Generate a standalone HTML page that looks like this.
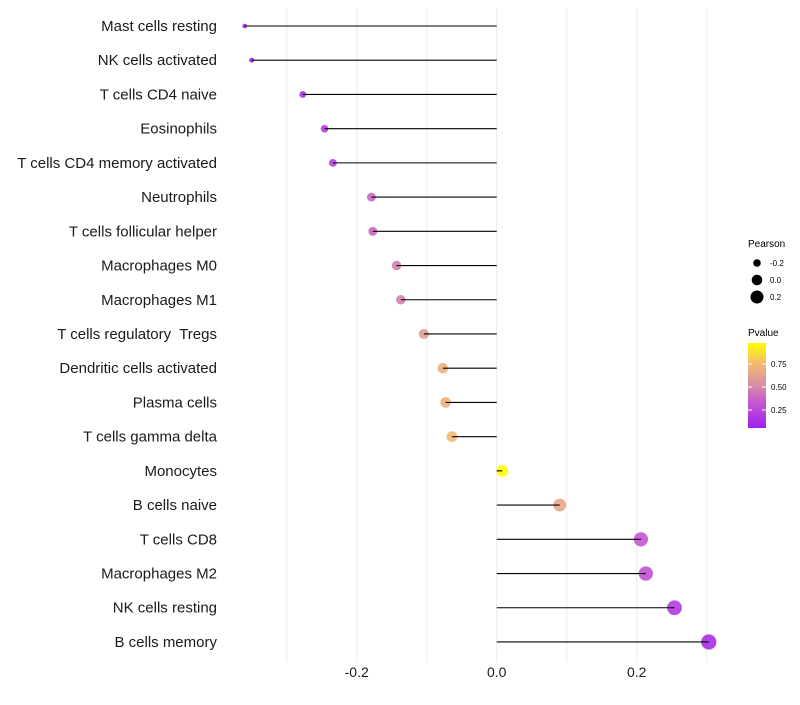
<!DOCTYPE html>
<html><head><meta charset="utf-8"><style>
body{margin:0;background:#fff;font-family:"Liberation Sans",sans-serif;}
text{white-space:pre;}
</style></head><body>
<svg id="chart" width="800" height="700" xmlns="http://www.w3.org/2000/svg" font-family="Liberation Sans, sans-serif">
<defs>
<linearGradient id="pg" x1="0" y1="1" x2="0" y2="0">
<stop offset="0" stop-color="#a020f0"/>
<stop offset="0.3" stop-color="#c458d0"/>
<stop offset="0.5" stop-color="#d88ea8"/>
<stop offset="0.75" stop-color="#f0b870"/>
<stop offset="1" stop-color="#ffff00"/>
</linearGradient>
</defs>
<g id="grid"></g>
<g id="labels"></g>
<g id="marks"></g>
<g id="xticks"></g>
<g font-size="10" fill="#000">
<text x="748" y="247">Pearson</text>
<circle cx="757" cy="263" r="3.8"/>
<text x="770" y="266" font-size="8">-0.2</text>
<circle cx="757" cy="280" r="5.3"/>
<text x="770" y="283" font-size="8">0.0</text>
<circle cx="757" cy="297" r="6.5"/>
<text x="770" y="300" font-size="8">0.2</text>
</g>
<g font-size="10" fill="#000">
<text x="748" y="336">Pvalue</text>
<rect x="748" y="343" width="18" height="85" fill="url(#pg)"/>
<line x1="748" x2="752" y1="364" y2="364" stroke="#fff"/><line x1="762" x2="766" y1="364" y2="364" stroke="#fff"/>
<line x1="748" x2="752" y1="387" y2="387" stroke="#fff"/><line x1="762" x2="766" y1="387" y2="387" stroke="#fff"/>
<line x1="748" x2="752" y1="410" y2="410" stroke="#fff"/><line x1="762" x2="766" y1="410" y2="410" stroke="#fff"/>
<text x="771" y="367" font-size="8">0.75</text>
<text x="771" y="390" font-size="8">0.50</text>
<text x="771" y="413" font-size="8">0.25</text>
</g>
</svg>
<script>
const categories=["Mast cells resting","NK cells activated","T cells CD4 naive","Eosinophils","T cells CD4 memory activated","Neutrophils","T cells follicular helper","Macrophages M0","Macrophages M1","T cells regulatory  Tregs","Dendritic cells activated","Plasma cells","T cells gamma delta","Monocytes","B cells naive","T cells CD8","Macrophages M2","NK cells resting","B cells memory"];
const pearson=[-0.36,-0.35,-0.277,-0.246,-0.234,-0.179,-0.177,-0.143,-0.137,-0.104,-0.077,-0.073,-0.064,0.008,0.09,0.206,0.213,0.254,0.303];
const pvalue=[0.05,0.07,0.15,0.2,0.22,0.38,0.38,0.46,0.48,0.6,0.7,0.72,0.75,0.97,0.65,0.32,0.3,0.18,0.12];
const tickValues=[-0.2,0.0,0.2];
const tickLabels=["-0.2","0.0","0.2"];
const gridValues=[-0.3,-0.2,-0.1,0,0.1,0.2,0.3];
const NS="http://www.w3.org/2000/svg";
const xs=v=>496.7+v*700;
const ys=i=>26+i*34.22;
const rs=v=>Math.sqrt(Math.max(3,34+80*v));
function mk(t,a,p){const e=document.createElementNS(NS,t);for(const k in a)e.setAttribute(k,a[k]);p.appendChild(e);return e;}
const stops=[[0,[160,32,240]],[0.3,[196,88,208]],[0.5,[216,142,168]],[0.75,[240,184,112]],[1,[255,255,0]]];
function col(p){const t=Math.max(0,Math.min(1,(p-0.05)/0.93));for(let i=1;i<stops.length;i++){if(t<=stops[i][0]){const a=stops[i-1],b=stops[i],f=(t-a[0])/(b[0]-a[0]);return 'rgb('+a[1].map((c,j)=>Math.round(c+(b[1][j]-c)*f)).join(',')+')';}}return 'rgb(255,255,0)';}
const grid=document.getElementById('grid'),labels=document.getElementById('labels'),marks=document.getElementById('marks'),xt=document.getElementById('xticks');
gridValues.forEach(v=>{const l=mk('line',{x1:xs(v),x2:xs(v),y1:8,y2:662,stroke:'#ebebeb','stroke-width':1},grid);

});
tickValues.forEach((v,i)=>{const t=mk('text',{x:xs(v),y:677,'text-anchor':'middle','font-size':14,fill:'#1a1a1a'},xt);t.textContent=tickLabels[i];

});
categories.forEach((c,i)=>{const y=ys(i);
const t=mk('text',{x:217,y:y+5,'text-anchor':'end','font-size':15,fill:'#1a1a1a'},labels);t.textContent=c;


const d=mk('circle',{cx:xs(pearson[i]),cy:y,r:rs(pearson[i]),fill:col(pvalue[i]),'fill-opacity':0.9},marks);


const l=mk('line',{x1:xs(0),x2:xs(pearson[i]),y1:y,y2:y,stroke:'#000','stroke-width':1.1},marks);

});
</script>
</body></html>
